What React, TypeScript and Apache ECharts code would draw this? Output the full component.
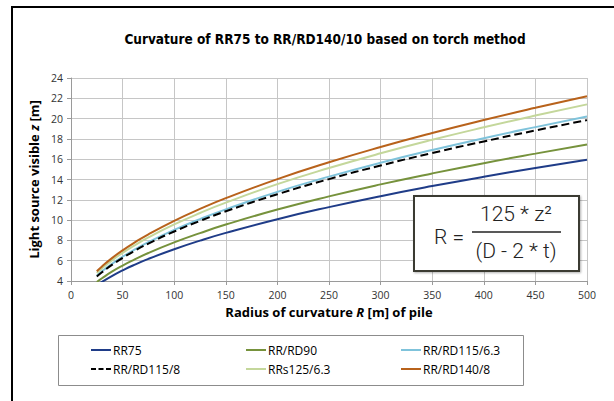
import React, { useEffect, useRef } from "react";
import * as echarts from "echarts";

const radii = [25, 30, 40, 50, 60, 75, 100, 125, 150, 200, 250, 300, 350, 400, 450, 500];
const rr75 = [3.57, 3.91, 4.51, 5.04, 5.53, 6.18, 7.13, 7.98, 8.74, 10.09, 11.28, 12.36, 13.35, 14.27, 15.13, 15.95];
const rrrd90 = [3.9, 4.27, 4.94, 5.52, 6.04, 6.76, 7.8, 8.72, 9.56, 11.04, 12.34, 13.52, 14.6, 15.61, 16.55, 17.45];
const rrrd115_63 = [4.52, 4.95, 5.71, 6.39, 7.0, 7.82, 9.03, 10.1, 11.06, 12.78, 14.28, 15.65, 16.9, 18.07, 19.16, 20.2];
const rrrd115_8 = [4.44, 4.86, 5.61, 6.28, 6.88, 7.69, 8.88, 9.92, 10.87, 12.55, 14.04, 15.38, 16.61, 17.75, 18.83, 19.85];
const rrs125_63 = [4.79, 5.24, 6.05, 6.77, 7.41, 8.29, 9.57, 10.7, 11.72, 13.54, 15.13, 16.58, 17.91, 19.14, 20.3, 21.4];
const rrrd140_8 = [4.96, 5.44, 6.28, 7.02, 7.69, 8.6, 9.93, 11.1, 12.16, 14.04, 15.7, 17.2, 18.58, 19.86, 21.06, 22.2];

const seriesNames = ["RR75", "RR/RD90", "RR/RD115/6.3", "RR/RD115/8", "RRs125/6.3", "RR/RD140/8"];
const seriesData = [rr75, rrrd90, rrrd115_63, rrrd115_8, rrs125_63, rrrd140_8];
const seriesColors = ["#1f3c88", "#76923c", "#7fc3db", "#000000", "#c4d79b", "#b8621b"];
const seriesDash = ["solid", "solid", "solid", "dashed", "solid", "solid"];

const titleText = "Curvature of RR75 to RR/RD140/10 based on torch method";

const solidIcon = "path://M0,0H20V2H0Z";
const dashIcon = "path://M0,0H5V2H0Z M7.5,0H12.5V2H7.5Z M15,0H20V2H15Z";

export default function App() {
  const ref = useRef<HTMLDivElement>(null);
  useEffect(() => {
    if (!ref.current) return;
    const chart = echarts.init(ref.current, null, { renderer: "svg" });
    const font = "'Open Sans', 'Liberation Sans', sans-serif";
    const item = (i: number) => ({ name: seriesNames[i], icon: seriesDash[i] === "dashed" ? dashIcon : solidIcon });
    const legendCommon = {
      orient: "vertical",
      top: 339,
      itemWidth: 20,
      itemHeight: 2,
      itemGap: 7,
      textStyle: { fontFamily: font, fontSize: 12, color: "#000", padding: [0, 0, 0, -3] },
    };
    chart.setOption({
      animation: false,
      backgroundColor: "#ffffff",
      title: {
        text: titleText,
        left: 320,
        textAlign: "center",
        top: 27,
        textStyle: { fontFamily: "'DejaVu Sans Condensed', 'DejaVu Sans', sans-serif", fontWeight: "bold", fontSize: 13.5, color: "#000" },
      },
      grid: { left: 71, right: 27, top: 78, bottom: 120 },
      xAxis: {
        type: "value",
        min: 0,
        max: 500,
        interval: 50,
        name: "{b|Radius of curvature }{i|R}{b| [m] of pile}",
        nameLocation: "middle",
        nameGap: 24,
        nameTextStyle: {
          rich: {
            b: { fontFamily: font, fontWeight: "bold", fontSize: 13, color: "#000" },
            i: { fontFamily: font, fontWeight: "bold", fontStyle: "italic", fontSize: 13, color: "#000" },
          },
        },
        axisLine: { lineStyle: { color: "#9a9a9a" } },
        axisTick: { show: true, length: 4, lineStyle: { color: "#9a9a9a" } },
        axisLabel: { fontFamily: font, fontSize: 10.5, color: "#333", margin: 8 },
        splitLine: { show: true, lineStyle: { color: "#c6c6c6", width: 1 } },
      },
      yAxis: {
        type: "value",
        min: 4,
        max: 24,
        interval: 2,
        name: "{b|Light source visible }{i|z}{b| [m]}",
        nameLocation: "middle",
        nameGap: 30,
        nameTextStyle: {
          rich: {
            b: { fontFamily: font, fontWeight: "bold", fontSize: 13, color: "#000" },
            i: { fontFamily: font, fontWeight: "bold", fontStyle: "italic", fontSize: 13, color: "#000" },
          },
        },
        axisLine: { show: true, lineStyle: { color: "#9a9a9a" } },
        axisTick: { show: true, length: 4, lineStyle: { color: "#9a9a9a" } },
        axisLabel: { fontFamily: font, fontSize: 10.5, color: "#333", margin: 8 },
        splitLine: { show: true, lineStyle: { color: "#c6c6c6", width: 1 } },
      },
      legend: [
        { ...legendCommon, left: 86, data: [item(0), item(3)] },
        { ...legendCommon, left: 241, data: [item(1), item(4)] },
        { ...legendCommon, left: 396, data: [item(2), item(5)] },
      ],
      series: seriesNames.map((name, i) => ({
        name,
        type: "line",
        smooth: true,
        showSymbol: false,
        symbol: "none",
        clip: true,
        data: radii.map((r, j) => [r, seriesData[i][j]]),
        lineStyle: { color: seriesColors[i], width: 2, type: seriesDash[i] },
        itemStyle: { color: seriesColors[i] },
        z: i === 3 ? 5 : 3,
      })),
      graphic: [
        {
          type: "rect",
          shape: { x: 12, y: 7, width: 800, height: 600 },
          style: { fill: "none", stroke: "#000", lineWidth: 2 },
          silent: true,
        },
        {
          type: "rect",
          shape: { x: 58.5, y: 335.5, width: 465, height: 50 },
          style: { fill: "none", stroke: "#8c8c8c", lineWidth: 1 },
          silent: true,
        },
        {
          type: "rect",
          shape: { x: 414, y: 196, width: 165, height: 75 },
          style: { fill: "#fff", stroke: "#3b3a30", lineWidth: 2, shadowColor: "rgba(0,0,0,0.3)", shadowBlur: 2, shadowOffsetX: 1, shadowOffsetY: 1 },
          z: 100,
        },
        {
          type: "text",
          x: 449,
          y: 237,
          style: { text: "R =", fontFamily: "'Roboto', sans-serif", fontWeight: 300, fontSize: 21, fill: "#222", align: "center", verticalAlign: "middle" },
          z: 101,
        },
        {
          type: "text",
          x: 516,
          y: 214,
          style: { text: "125 * z²", fontFamily: "'Roboto', sans-serif", fontWeight: 300, fontSize: 21, fill: "#222", align: "center", verticalAlign: "middle" },
          z: 101,
        },
        {
          type: "line",
          shape: { x1: 472, y1: 232, x2: 561, y2: 232 },
          style: { stroke: "#222", lineWidth: 1.5 },
          z: 101,
        },
        {
          type: "text",
          x: 516,
          y: 251,
          style: { text: "(D - 2 * t)", fontFamily: "'Roboto', sans-serif", fontWeight: 300, fontSize: 21, fill: "#222", align: "center", verticalAlign: "middle" },
          z: 101,
        },
      ],
    });
    return () => chart.dispose();
  }, []);
  return <div ref={ref} style={{ position: "absolute", left: 0, top: 0, width: 614, height: 401 }} />;
}
